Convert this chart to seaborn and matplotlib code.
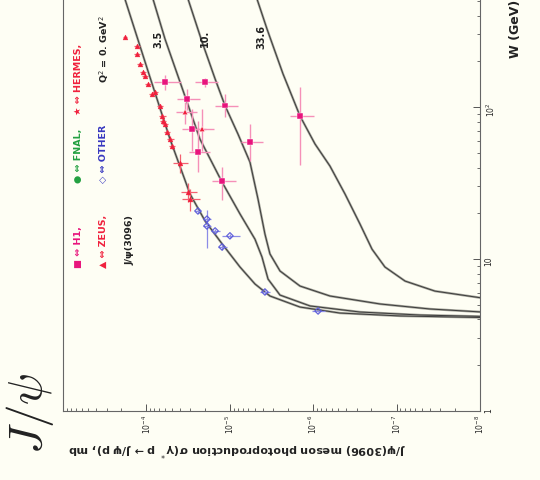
import numpy as np
import pandas as pd
import matplotlib
matplotlib.use("Agg")
import matplotlib.pyplot as plt
import seaborn as sns
from matplotlib.ticker import LogLocator, FixedLocator, FixedFormatter, NullFormatter

sns.set_style("ticks")
plt.rcParams['font.family'] = ['DejaVu Sans']
plt.rcParams['mathtext.fontset'] = 'dejavusans'

# ---------------- data (W in GeV, sigma in mb) ----------------
# theory curves for several Q^2
curve_q2 = ["0", "3.5", "10.", "33.6"]
W_q0 = [514, 157, 61.5, 26.8, 17.8, 12.6, 8.86, 6.85, 5.71, 4.83, 4.41, 4.22, 4.12]
S_q0 = [1.81e-4, 9.06e-5, 5.21e-5, 3.00e-5, 1.98e-5, 1.24e-5, 7.55e-6, 4.99e-6,
        3.30e-6, 1.44e-6, 4.78e-7, 9.10e-8, 9.46e-9]
W_q35 = [514, 280, 146, 61.5, 32.1, 19.8, 13.5, 10.3, 7.38, 5.79, 4.91, 4.48, 4.28, 4.19]
S_q35 = [8.34e-5, 5.98e-5, 3.95e-5, 2.28e-5, 1.24e-5, 7.55e-6, 4.99e-6, 4.11e-6,
         3.48e-6, 2.50e-6, 1.09e-6, 2.75e-7, 5.24e-8, 9.46e-9]
W_q10 = [514, 268, 153, 102, 66.4, 43.4, 24.8, 14.6, 10.8, 8.34, 6.64, 5.71, 5.06, 4.69, 4.48]
S_q10 = [3.17e-5, 2.15e-5, 1.50e-5, 1.14e-5, 7.98e-6, 5.73e-6, 4.59e-6, 3.79e-6,
         3.30e-6, 2.50e-6, 1.44e-6, 6.30e-7, 1.58e-7, 3.98e-8, 9.46e-9]
W_q336 = [514, 326, 165, 87.3, 57.1, 40.9, 26.8, 17.0, 11.6, 8.86, 7.16, 6.15, 5.54]
S_q336 = [4.72e-6, 3.58e-6, 2.30e-6, 1.44e-6, 9.51e-7, 6.30e-7, 4.16e-7, 2.75e-7,
          1.97e-7, 1.38e-7, 7.92e-8, 3.47e-8, 9.46e-9]

# photoproduction data (Q^2 = 0)
W_photo = [289, 252, 223, 192, 170, 160, 142, 126, 122, 102, 87, 81, 77, 69, 62, 55, 43, 27.6, 24.8]
S_photo = [1.81e-4, 1.30e-4, 1.30e-4, 1.19e-4, 1.10e-4, 1.04e-4, 9.57e-5, 7.89e-5, 8.57e-5,
           6.87e-5, 6.50e-5, 6.33e-5, 5.98e-5, 5.66e-5, 5.21e-5, 4.93e-5, 3.95e-5, 3.17e-5, 3.00e-5]
Serr_photo = [1.2e-5, 1.0e-5, 1.0e-5, 1.0e-5, 0.9e-5, 0.8e-5, 0.8e-5, 0.7e-5, 0.7e-5,
              0.6e-5, 0.6e-5, 0.5e-5, 0.5e-5, 0.5e-5, 0.5e-5, 0.4e-5, 0.8e-5, 0.7e-5, 0.7e-5]
Werr_photo = [8, 8, 7, 6, 5, 5, 4, 4, 4, 3, 3, 3, 2, 2, 2, 2, 6, 4, 4]

# electroproduction data (Q^2 > 0)
W_elec = [146, 113, 92.7, 71.7, 71.7, 50.6, 32.6, 146, 102, 58.9, 87.3]
S_elec = [5.98e-5, 3.26e-5, 3.44e-5, 2.84e-5, 2.15e-5, 2.41e-5, 1.24e-5, 1.98e-5, 1.14e-5, 5.73e-6, 1.44e-6]
Serr_elec = [2.1e-5, 1.0e-5, 1.0e-5, 0.9e-5, 0.6e-5, 0.7e-5, 4.0e-6, 6.0e-6, 3.5e-6, 1.7e-6, 0.45e-6]
Wlo_elec = [17, 18, 15, 20, 20, 13, 8, 10, 16, 15, 46]
Whi_elec = [17, 18, 15, 25, 25, 30, 8, 10, 19, 18, 48]
Exp_elec = ["H1", "H1", "ZEUS", "H1", "ZEUS", "H1", "H1", "H1", "H1", "H1", "H1"]

# other (fixed target) data
W_other = [20.7, 18.3, 16.5, 15.3, 14.2, 12.0, 6.07, 4.55]
S_other = [2.41e-5, 1.88e-5, 1.88e-5, 1.50e-5, 9.96e-6, 1.24e-5, 3.79e-6, 8.74e-7]
Serr_other = [2e-6, 2e-6, 2e-6, 2e-6, 2.5e-6, 1.5e-6, 5e-7, 1.5e-7]
Werr_other = [0.5, 0.5, 4.6, 0.5, 0.5, 0.5, 0.2, 0.1]

sigma_ticks = [1e-8, 1e-7, 1e-6, 1e-5, 1e-4]
w_ticks = [1, 10, 100]
w_tick_labels = ["1", "10", "$10^2$"]

# ---------------- figure ----------------
bg = "#fefef4"
fig = plt.figure(figsize=(5.4, 4.81), dpi=100, facecolor=bg)
ax = fig.add_axes([63 / 540, (481 - 412) / 481, 417 / 540, 417.7 / 481])
ax.set_facecolor(bg)

curves = pd.concat([
    pd.DataFrame({"sigma": S_q0, "W": W_q0, "Q2": curve_q2[0]}),
    pd.DataFrame({"sigma": S_q35, "W": W_q35, "Q2": curve_q2[1]}),
    pd.DataFrame({"sigma": S_q10, "W": W_q10, "Q2": curve_q2[2]}),
    pd.DataFrame({"sigma": S_q336, "W": W_q336, "Q2": curve_q2[3]}),
])
sns.lineplot(data=curves, x="sigma", y="W", units="Q2", estimator=None, sort=False,
             color="#a4a49a", lw=1.7, ax=ax, legend=False)
sns.lineplot(data=curves, x="sigma", y="W", units="Q2", estimator=None, sort=False,
             color="#3c3c3c", lw=0.7, ax=ax, legend=False)

red = "#f0203c"
mag = "#e8147c"
blue = "#5a5ad8"

ax.errorbar(S_photo, W_photo, xerr=Serr_photo, yerr=Werr_photo, fmt="none",
            ecolor="#f46070", elinewidth=0.9, capsize=0)
ax.errorbar(S_elec, W_elec, xerr=Serr_elec, yerr=[Wlo_elec, Whi_elec], fmt="none",
            ecolor="#f590b8", elinewidth=1.0, capsize=0)
ax.errorbar(S_other, W_other, xerr=Serr_other, yerr=Werr_other, fmt="none",
            ecolor="#8c8ce6", elinewidth=0.9, capsize=0)

photo = pd.DataFrame({"sigma": S_photo, "W": W_photo})
sns.scatterplot(data=photo, x="sigma", y="W", marker="^", s=12, color=red,
                edgecolor=red, linewidth=0.3, ax=ax, zorder=5)
elec = pd.DataFrame({"sigma": S_elec, "W": W_elec, "exp": Exp_elec})
sns.scatterplot(data=elec, x="sigma", y="W", hue="exp", style="exp",
                palette={"H1": mag, "ZEUS": red}, markers={"H1": "s", "ZEUS": "^"},
                s=16, linewidth=0.3, ax=ax, legend=False, zorder=5)
other = pd.DataFrame({"sigma": S_other, "W": W_other})
sns.scatterplot(data=other, x="sigma", y="W", marker="D", s=11, facecolor="none",
                edgecolor=blue, linewidth=0.8, ax=ax, zorder=5)

ax.set_xscale("log")
ax.set_yscale("log")
ax.set_xlim(1e-3, 1e-8)
ax.set_ylim(1, 560)
ax.set_xlabel("")
ax.set_ylabel("")

ax.xaxis.set_major_locator(FixedLocator(sigma_ticks))
ax.xaxis.set_minor_locator(LogLocator(base=10, subs=np.arange(2, 10), numticks=20))
ax.xaxis.set_minor_formatter(NullFormatter())
ax.yaxis.set_major_locator(FixedLocator(w_ticks))
ax.yaxis.set_major_formatter(FixedFormatter(w_tick_labels))
ax.yaxis.set_minor_locator(LogLocator(base=10, subs=np.arange(2, 10), numticks=20))
ax.yaxis.set_minor_formatter(NullFormatter())

ax.tick_params(axis="x", which="both", direction="in", bottom=True, top=False,
               labelsize=5.5, labelrotation=90, color="#555", pad=2)
ax.tick_params(axis="y", which="both", direction="in", left=False, right=True,
               labelleft=False, labelright=True, labelsize=5.5, labelrotation=90, color="#555", pad=3)
ax.tick_params(which="major", length=5, width=0.7)
ax.tick_params(which="minor", length=2.5, width=0.6)
for side in ["left", "bottom", "right"]:
    ax.spines[side].set_color("#666")
    ax.spines[side].set_linewidth(0.8)
ax.spines["top"].set_visible(False)

def afx(px):
    return (px - 63) / 417

def afy(py):
    return (412 - py) / 417.7

# curve labels
for lab, px, py in [("3.5", 158, 39), ("10.", 205, 38), ("33.6", 261, 37)]:
    ax.text(afx(px), afy(py), lab, transform=ax.transAxes, rotation=90,
            ha="center", va="center", fontsize=7, fontweight="bold", color="#222")

# legend-like annotations
leg = [
    ("■ ⇔ H1,", mag, 78, 268),
    ("● ⇔ FNAL,", "#22a040", 78, 183),
    ("★ ⇔ HERMES,", red, 78, 115),
    ("▲ ⇔ ZEUS,", red, 103, 268),
    ("◇ ⇔ OTHER", "#3838c0", 103, 183),
    ("Q$^2$ = 0. GeV$^2$", "#222", 104, 83),
    ("J/ψ(3096)", "#222", 130, 265),
]
for txt, col, px, py in leg:
    ax.text(afx(px), afy(py), txt, transform=ax.transAxes, rotation=90,
            ha="center", va="bottom", fontsize=6.8, fontweight="bold", color=col)

fig.text(68 / 540, (481 - 449) / 481,
         "J/ψ(3096) meson photoproduction σ(γ$^*$ p → J/ψ p), mb",
         rotation=180, ha="left", va="center", fontsize=8, fontweight="bold", color="#222")
fig.text(516 / 540, (481 - 58) / 481, "W (GeV)", rotation=90, ha="center", va="bottom",
         fontsize=9, fontweight="bold", color="#222")
fig.text(30 / 540, (481 - 413) / 481, r"$J/\psi$", rotation=90, ha="center", va="center",
         fontsize=34, math_fontfamily="cm", color="#222")

fig.savefig("out.png", dpi=100, facecolor=bg)
